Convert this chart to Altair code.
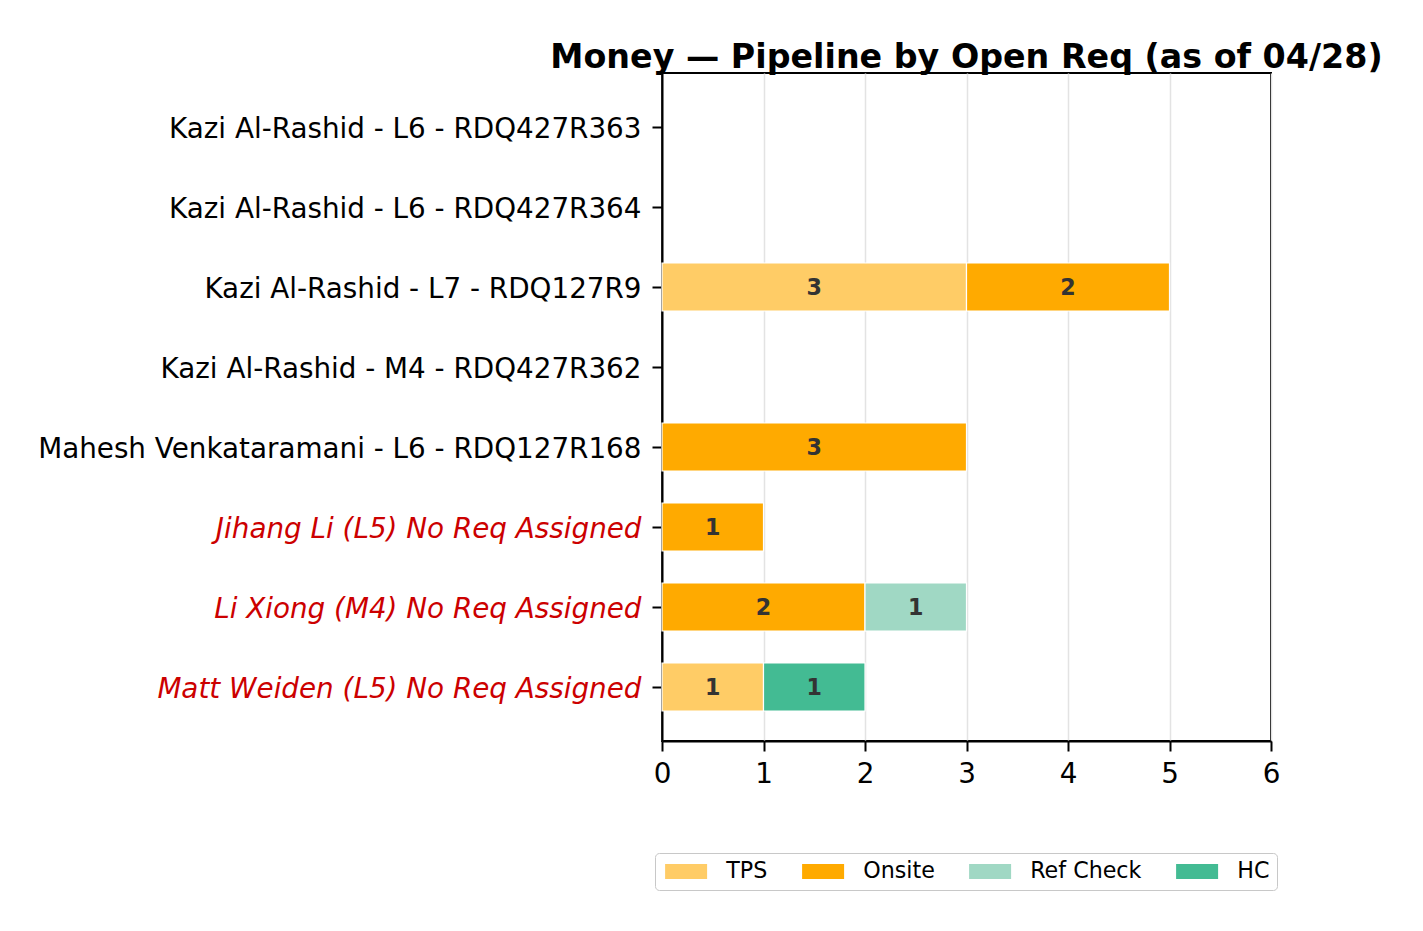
import altair as alt
import pandas as pd

reqs = [
    "Kazi Al-Rashid - L6 - RDQ427R363",
    "Kazi Al-Rashid - L6 - RDQ427R364",
    "Kazi Al-Rashid - L7 - RDQ127R9",
    "Kazi Al-Rashid - M4 - RDQ427R362",
    "Mahesh Venkataramani - L6 - RDQ127R168",
    "Jihang Li (L5) No Req Assigned",
    "Li Xiong (M4) No Req Assigned",
    "Matt Weiden (L5) No Req Assigned",
]
stages = ["TPS", "Onsite", "Ref Check", "HC"]
stage_colors = ["#FFCC66", "#FFAA00", "#A0D8C4", "#43BB93"]

tps = [0, 0, 3, 0, 0, 0, 0, 1]
onsite = [0, 0, 2, 0, 3, 1, 2, 0]
ref_check = [0, 0, 0, 0, 0, 0, 1, 0]
hc = [0, 0, 0, 0, 0, 0, 0, 1]

rows = []
for si, (stage, vals) in enumerate(zip(stages, [tps, onsite, ref_check, hc])):
    for r, v in zip(reqs, vals):
        if v > 0:
            rows.append({"req": r, "stage": stage, "order": si, "count": v})
df = pd.DataFrame(rows)

FONT = "DejaVu Sans"
red_test = "indexof(datum.label, 'No Req Assigned') >= 0"

base = alt.Chart(df).transform_stack(
    stack="count", groupby=["req"], as_=["x0", "x1"],
    sort=[alt.SortField("order", order="ascending")]
).transform_calculate(mid="(datum.x0 + datum.x1) / 2")

y_enc = alt.Y(
    "req:N",
    sort=reqs,
    scale=alt.Scale(domain=reqs, paddingInner=0.4, paddingOuter=0.375),
    title=None,
    axis=alt.Axis(
        labelFont=FONT, labelFontSize=27.8, labelLimit=1000,
        labelColor={"condition": {"test": red_test, "value": "#cc0000"}, "value": "black"},
        labelFontStyle={"condition": {"test": red_test, "value": "italic"}, "value": "normal"},
        tickSize=10, tickWidth=2, tickColor="black", labelPadding=11,
        labelOffset=3,
        domainColor="black", domainWidth=2, grid=False,
    ),
)

x_scale = alt.Scale(domain=[0, 6], nice=False, zero=True)
x_axis = alt.Axis(
    values=[0, 1, 2, 3, 4, 5, 6], format="d",
    labelFont=FONT, labelFontSize=27.8, labelColor="black", labelFlush=False,
    tickSize=10, tickWidth=2, tickColor="black", labelPadding=9,
    domainColor="black", domainWidth=2,
    grid=True, gridColor="#e3e3e3", gridWidth=1.5,
)

bars = base.mark_bar(stroke="white", strokeWidth=1.2, opacity=1).encode(
    x=alt.X("x0:Q", scale=x_scale, axis=x_axis, title=None),
    x2="x1:Q",
    y=y_enc,
    color=alt.Color(
        "stage:N",
        scale=alt.Scale(domain=stages, range=stage_colors),
        legend=alt.Legend(
            title=None, orient="none", legendX=-7, legendY=780,
            direction="horizontal", columns=4,
            labelFont=FONT, labelFontSize=22.2, labelColor="black",
            symbolType="M-1.909,-0.682L1.909,-0.682L1.909,0.682L-1.909,0.682Z",
            symbolSize=484, symbolOffset=13,
            symbolStrokeWidth=0, symbolOpacity=1,
            labelOffset=29, columnPadding=31, padding=7,
            strokeColor="#c8c8c8", fillColor="white", cornerRadius=4,
        ),
    ),
)

labels = base.mark_text(
    font=FONT, fontSize=22.2, fontWeight="bold", color="#333333",
    align="center", baseline="middle", dy=1,
).encode(
    x=alt.X("mid:Q", scale=x_scale),
    y=alt.Y("req:N", sort=reqs, scale=alt.Scale(domain=reqs)),
    text=alt.Text("count:Q", format="d"),
)

chart = alt.layer(bars, labels).properties(
    width=609, height=668,
    title=alt.TitleParams(
        "Money — Pipeline by Open Req (as of 04/28)",
        font=FONT, fontSize=33.3, fontWeight="bold", color="black",
        anchor="middle", offset=-2,
    ),
    padding={"left": 654, "top": 65, "right": 144, "bottom": 182},
    autosize=alt.AutoSizeParams(type="none"),
).configure_view(stroke="black", strokeWidth=2)

chart.save("out.html", embed_options={"renderer": "svg", "actions": False})
